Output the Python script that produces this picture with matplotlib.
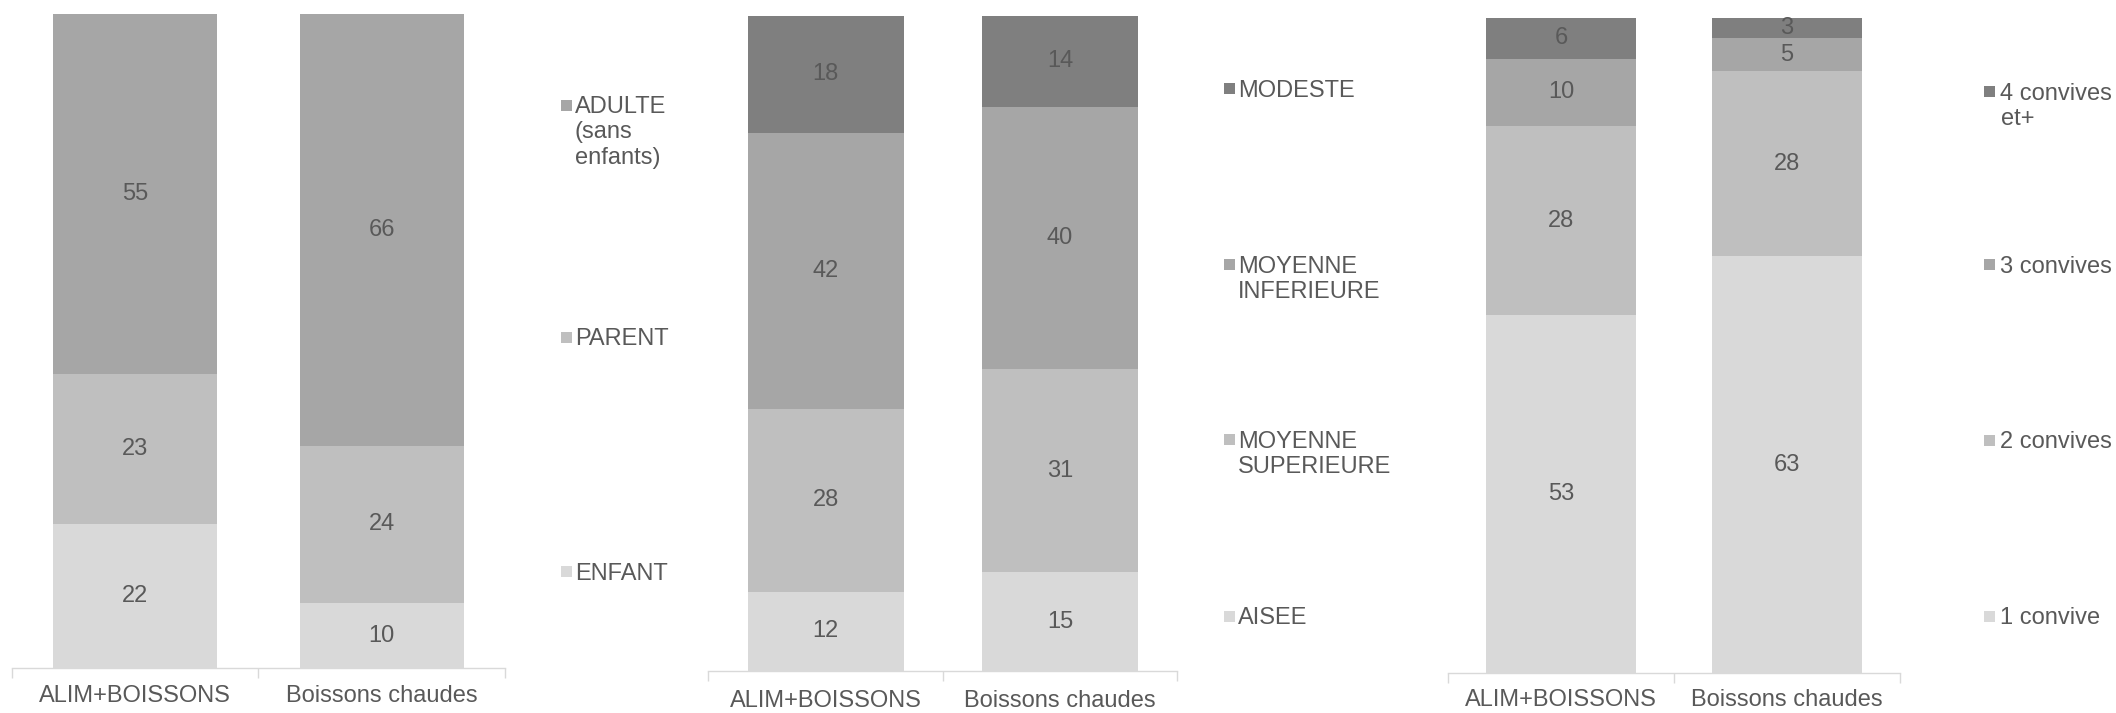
import matplotlib
matplotlib.use("Agg")
import matplotlib.pyplot as plt
from matplotlib.patches import Rectangle
import numpy as np

plt.rcParams['font.family'] = ['Liberation Sans', 'DejaVu Sans']

W, H = 2116, 713
TEXT = '#595959'
AXIS = '#d9d9d9'
FS = 17
MK = 11  # cote des carres de legende, en px

categories = ['ALIM+BOISSONS', 'Boissons chaudes']

# profil
profil_labels = ['ENFANT', 'PARENT', 'ADULTE\n(sans\nenfants)']
profil_values = [[22, 10], [23, 24], [55, 66]]
profil_colors = ['#d9d9d9', '#bfbfbf', '#a6a6a6']

# classe sociale
classe_labels = ['AISEE', 'MOYENNE\nSUPERIEURE', 'MOYENNE\nINFERIEURE', 'MODESTE']
classe_values = [[12, 15], [28, 31], [42, 40], [18, 14]]
classe_colors = ['#d9d9d9', '#bfbfbf', '#a6a6a6', '#7f7f7f']

# nombre de convives
convives_labels = ['1 convive', '2 convives', '3 convives', '4 convives\net+']
convives_values = [[53, 63], [28, 28], [10, 5], [6, 3]]
convives_colors = ['#d9d9d9', '#bfbfbf', '#a6a6a6', '#7f7f7f']

fig = plt.figure(figsize=(W / 100, H / 100), dpi=100)


def px_axes(x0, x1, top, base):
    return fig.add_axes([x0 / W, (H - base) / H, (x1 - x0) / W, (base - top) / H])


def stacked(ax, values, colors, pad):
    vals = np.array(values, dtype=float)
    share = vals / vals.sum(axis=0) * 100  # 100% empile
    x = np.arange(len(categories))
    bottom = np.zeros(len(categories))
    for raw, s, c in zip(vals, share, colors):
        ax.bar(x, s, bottom=bottom, width=0.665, color=c, linewidth=0)
        for xi, b, h, v in zip(x, bottom, s, raw):
            ax.text(xi, b + h / 2, f"{v:.0f}", ha='center', va='center',
                    fontsize=FS, color=TEXT)
        bottom += s
    ax.set_xlim(-0.5, 1.5)
    ax.set_ylim(0, 100)
    ax.set_yticks([])
    for side in ['top', 'right', 'left']:
        ax.spines[side].set_visible(False)
    ax.spines['bottom'].set_color(AXIS)
    ax.spines['bottom'].set_linewidth(1.0)
    ax.set_xticks(x)
    ax.set_xticklabels(categories, fontsize=FS, color=TEXT)
    ax.tick_params(axis='x', which='major', length=0, pad=pad)
    ax.set_xticks([-0.5, 0.5, 1.5], minor=True)
    ax.tick_params(axis='x', which='minor', length=7, color=AXIS, width=1.0)


def legend(labels, colors, ys, mx, tx):
    # ys = centre de la premiere ligne de chaque entree
    for lab, c, y in zip(labels, colors, ys):
        fig.add_artist(Rectangle((mx / W, (H - y - MK / 2) / H), MK / W, MK / H,
                                 transform=fig.transFigure, color=c, lw=0))
        fig.text(tx / W, (H - y + 9) / H, lab, fontsize=FS, color=TEXT,
                 ha='left', va='top', linespacing=1.2)


ax1 = px_axes(11.7, 505, 13.6, 668.3)
stacked(ax1, profil_values, profil_colors, 12)
legend(profil_labels, profil_colors, [571.6, 337.4, 105], 560.5, 575)

ax2 = px_axes(708.3, 1177.3, 15.5, 670.7)
stacked(ax2, classe_values, classe_colors, 13.9)
legend(classe_labels, classe_colors, [616.2, 439.7, 265, 88.7], 1223.5, 1238)

ax3 = px_axes(1448.3, 1900, 18.2, 673.3)
stacked(ax3, convives_values, convives_colors, 11)
legend(convives_labels, convives_colors, [616, 440, 265, 91.7], 1984, 2000.5)

fig.savefig('out.png', dpi=100, facecolor='white')
